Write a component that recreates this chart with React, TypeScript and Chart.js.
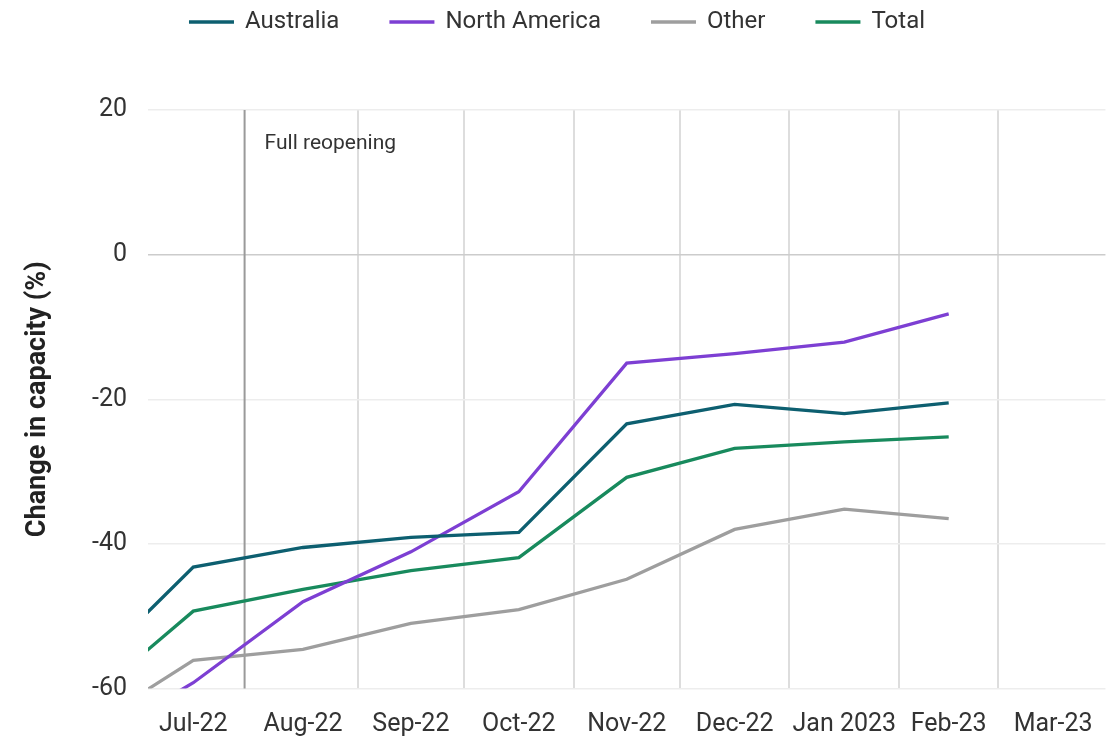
import React, { useEffect, useRef } from 'react';
import { Chart, registerables } from 'chart.js';

Chart.register(...registerables);

const FONT = "Roboto, 'Open Sans', sans-serif";

// Monthly data points (plotted at the centre of each month)
const dataMonths = ['2022-06', '2022-07', '2022-08', '2022-09', '2022-10', '2022-11', '2022-12', '2023-01', '2023-02'];
const australia = [-58.0, -43.2, -40.5, -39.1, -38.4, -23.4, -20.7, -22.0, -20.5];
const northAmerica = [-68.0, -59.2, -48.0, -41.1, -32.8, -15.0, -13.7, -12.1, -8.2];
const other = [-65.6, -56.1, -54.6, -51.0, -49.1, -44.9, -38.0, -35.2, -36.5];
const total = [-62.0, -49.3, -46.3, -43.7, -41.9, -30.8, -26.8, -25.9, -25.2];

// Axis labels
const tickMonths = ['2022-07', '2022-08', '2022-09', '2022-10', '2022-11', '2022-12', '2023-01', '2023-02', '2023-03'];
const tickLabels = ['Jul-22', 'Aug-22', 'Sep-22', 'Oct-22', 'Nov-22', 'Dec-22', 'Jan 2023', 'Feb-23', 'Mar-23'];
const gridMonths = ['2022-09', '2022-10', '2022-11', '2022-12', '2023-01', '2023-02', '2023-03'];
const yTicks = [-60, -40, -20, 0, 20];

const reopeningDate = '2022-07-31';
const reopeningLabel = 'Full reopening';
const yTitle = 'Change in capacity (%)';

// x range in days since 1 Jul 2022
const xMin = 2.7;
const xMax = 273.3;

function dayIndex(y: number, m: number, d: number): number {
  return (Date.UTC(y, m - 1, d) - Date.UTC(2022, 6, 1)) / 86400000;
}
function monthStart(ym: string): number {
  const [y, m] = ym.split('-').map(Number);
  return dayIndex(y, m, 1);
}
function monthCenter(ym: string): number {
  const [y, m] = ym.split('-').map(Number);
  const s = dayIndex(y, m, 1);
  const e = m === 12 ? dayIndex(y + 1, 1, 1) : dayIndex(y, m + 1, 1);
  return (s + e) / 2;
}
function dateDay(ymd: string): number {
  const [y, m, d] = ymd.split('-').map(Number);
  return dayIndex(y, m, d);
}

const series = [
  { label: 'Australia', values: australia, color: '#0d5f70' },
  { label: 'North America', values: northAmerica, color: '#7d3fd3' },
  { label: 'Other', values: other, color: '#9e9e9e' },
  { label: 'Total', values: total, color: '#188a5d' },
];

const topLegend = {
  id: 'topLegend',
  afterDraw(chart: any) {
    const ctx = chart.ctx;
    ctx.save();
    ctx.font = `24px ${FONT}`;
    const items = chart.data.datasets.map((ds: any) => ({
      label: ds.label,
      color: ds.borderColor,
      w: ctx.measureText(ds.label).width,
    }));
    const lineW = 45;
    const gapText = 11;
    const gapItem = 50;
    const totalW = items.reduce((s: number, it: any) => s + lineW + gapText + it.w, 0) + gapItem * (items.length - 1);
    let x = (chart.width - totalW) / 2;
    const y = 22;
    items.forEach((it: any) => {
      ctx.strokeStyle = it.color;
      ctx.lineWidth = 3.5;
      ctx.beginPath();
      ctx.moveTo(x, y);
      ctx.lineTo(x + lineW, y);
      ctx.stroke();
      ctx.fillStyle = '#333333';
      ctx.textBaseline = 'middle';
      ctx.textAlign = 'left';
      ctx.fillText(it.label, x + lineW + gapText, y);
      x += lineW + gapText + it.w + gapItem;
    });
    ctx.restore();
  },
};

const reopening = {
  id: 'reopening',
  beforeDatasetsDraw(chart: any) {
    const { ctx, chartArea } = chart;
    const x = chart.scales.x.getPixelForValue(dateDay(reopeningDate));
    ctx.save();
    ctx.strokeStyle = '#9a9a9a';
    ctx.lineWidth = 2;
    ctx.beginPath();
    ctx.moveTo(x, chartArea.top);
    ctx.lineTo(x, chartArea.bottom);
    ctx.stroke();
    ctx.font = `21px ${FONT}`;
    ctx.fillStyle = '#333333';
    ctx.textAlign = 'left';
    ctx.textBaseline = 'middle';
    ctx.fillText(reopeningLabel, x + 20, chartArea.top + 34);
    ctx.restore();
  },
};

export default function App() {
  const ref = useRef<HTMLCanvasElement | null>(null);

  useEffect(() => {
    document.body.style.margin = '0';
    document.body.style.overflow = 'hidden';
    const canvas = ref.current;
    if (!canvas) return;
    const chart = new Chart(canvas, {
      type: 'line',
      data: {
        datasets: series.map((s) => ({
          label: s.label,
          data: s.values.map((v, i) => ({ x: monthCenter(dataMonths[i]), y: v })),
          borderColor: s.color,
          backgroundColor: s.color,
          borderWidth: 3.3,
          pointRadius: 0,
          pointHoverRadius: 0,
          tension: 0,
          fill: false,
        })),
      },
      options: {
        animation: false,
        responsive: true,
        maintainAspectRatio: false,
        devicePixelRatio: 1,
        layout: { padding: { top: 110, right: 7, bottom: 0, left: 0 } },
        plugins: {
          legend: { display: false },
          tooltip: { enabled: false },
        },
        scales: {
          x: {
            type: 'linear',
            position: 'bottom',
            min: xMin,
            max: xMax,
            afterBuildTicks: (s: any) => {
              s.ticks = gridMonths.map((m) => ({ value: monthStart(m) }));
            },
            afterFit: (s: any) => {
              s.height = 0;
            },
            ticks: { display: false },
            grid: { color: '#dddddd', lineWidth: 2, drawTicks: false },
            border: { display: false },
          },
          xLabels: {
            type: 'linear',
            position: 'bottom',
            min: xMin,
            max: xMax,
            afterBuildTicks: (s: any) => {
              s.ticks = tickMonths.map((m) => ({ value: monthCenter(m) }));
            },
            afterFit: (s: any) => {
              s.height = 52.5;
            },
            ticks: {
              autoSkip: false,
              maxRotation: 0,
              padding: 21,
              color: '#333333',
              font: { family: FONT, size: 25 },
              callback: (_v: any, i: number) => tickLabels[i],
            },
            grid: { display: false, drawTicks: false },
            border: { display: false },
          },
          y: {
            type: 'linear',
            min: -60,
            max: 20,
            afterBuildTicks: (s: any) => {
              s.ticks = yTicks.map((v) => ({ value: v }));
            },
            afterFit: (s: any) => {
              s.width = 148;
            },
            ticks: {
              padding: 21,
              color: '#333333',
              font: { family: FONT, size: 25 },
            },
            grid: {
              color: (c: any) => (c.tick && c.tick.value === 0 ? '#cccccc' : '#ededed'),
              lineWidth: 1.5,
              drawTicks: false,
            },
            border: { display: false },
            title: {
              display: true,
              text: yTitle,
              color: '#222222',
              font: { family: FONT, size: 27, weight: 'bold' },
              padding: { top: 22, bottom: 0 },
            },
          },
        },
      },
      plugins: [reopening, topLegend],
    });
    return () => chart.destroy();
  }, []);

  return (
    <div style={{ width: '1114px', height: '741px', position: 'relative' }}>
      <canvas ref={ref} />
    </div>
  );
}
